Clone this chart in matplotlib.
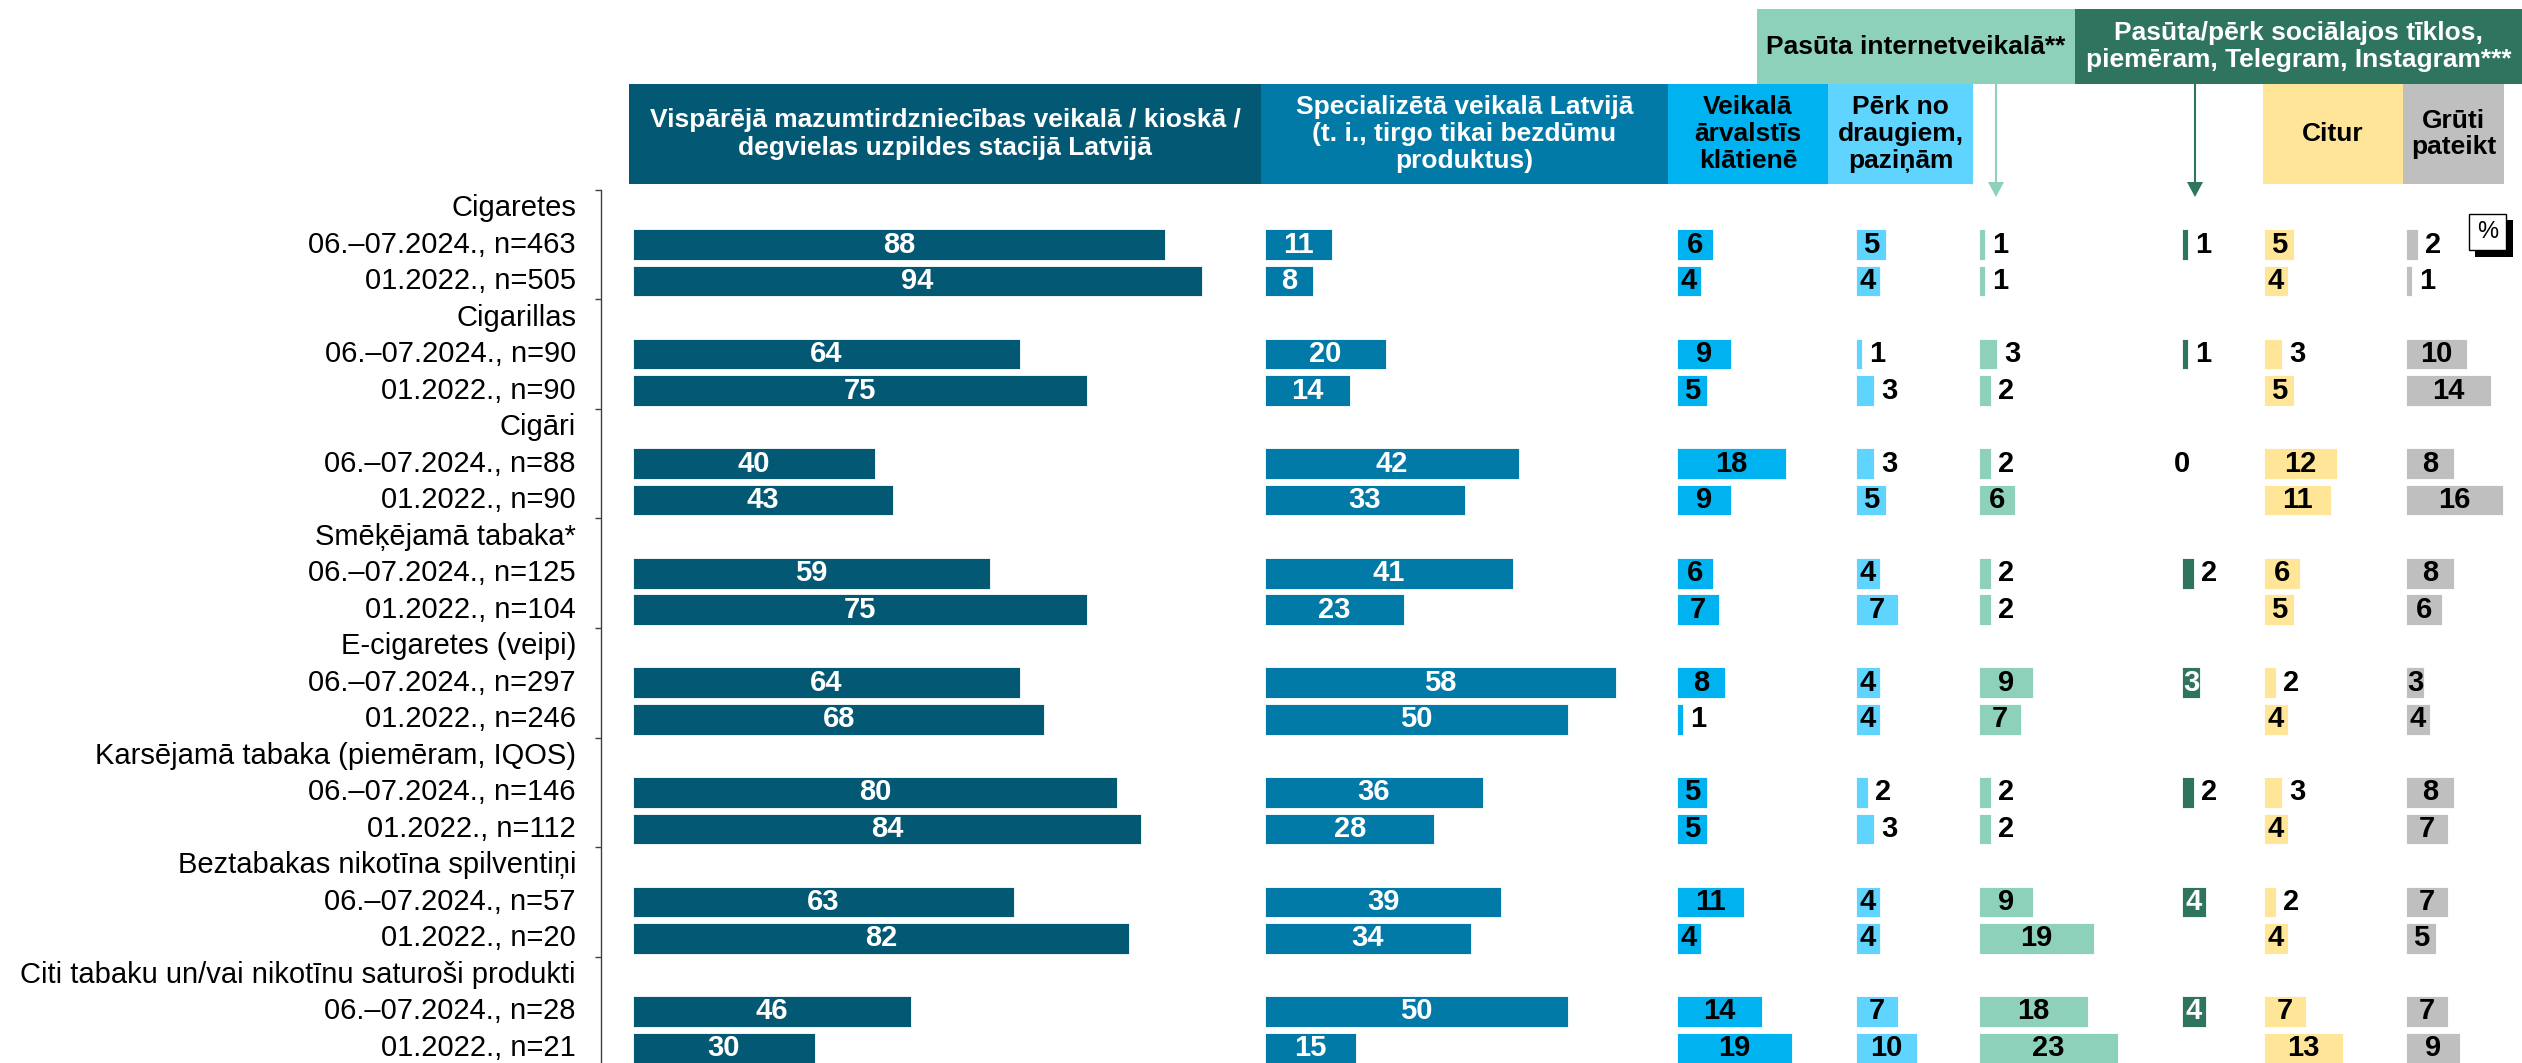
import matplotlib
matplotlib.use('Agg')
import matplotlib.pyplot as plt
from matplotlib.patches import Rectangle, Polygon

plt.rcParams['font.family'] = ['Liberation Sans', 'DejaVu Sans']

# ---------------- data ----------------
categories = ["Cigaretes", "Cigarillas", "Cigāri", "Smēķējamā tabaka*",
              "E-cigaretes (veipi)", "Karsējamā tabaka (piemēram, IQOS)",
              "Beztabakas nikotīna spilventiņi",
              "Citi tabaku un/vai nikotīnu saturoši produkti"]
period_2024 = "06.–07.2024."
period_2022 = "01.2022."
n_2024 = [463, 90, 88, 125, 297, 146, 57, 28]
n_2022 = [505, 90, 90, 104, 246, 112, 20, 21]

general_2024 = [88, 64, 40, 59, 64, 80, 63, 46]
general_2022 = [94, 75, 43, 75, 68, 84, 82, 30]
special_2024 = [11, 20, 42, 41, 58, 36, 39, 50]
special_2022 = [8, 14, 33, 23, 50, 28, 34, 15]
abroad_2024 = [6, 9, 18, 6, 8, 5, 11, 14]
abroad_2022 = [4, 5, 9, 7, 1, 5, 4, 19]
friends_2024 = [5, 1, 3, 4, 4, 2, 4, 7]
friends_2022 = [4, 3, 5, 7, 4, 3, 4, 10]
internet_2024 = [1, 3, 2, 2, 9, 2, 9, 18]
internet_2022 = [1, 2, 6, 2, 7, 2, 19, 23]
social_2024 = [1, 1, 0, 2, 3, 2, 4, 4]
social_2022 = [None] * 8
citur_2024 = [5, 3, 12, 6, 2, 3, 2, 7]
citur_2022 = [4, 5, 11, 5, 4, 4, 4, 13]
gruti_2024 = [2, 10, 8, 8, 3, 8, 7, 7]
gruti_2022 = [1, 14, 16, 6, 4, 7, 5, 9]

header_general = "Vispārējā mazumtirdzniecības veikalā / kioskā /\ndegvielas uzpildes stacijā Latvijā"
header_special = "Specializētā veikalā Latvijā\n(t. i., tirgo tikai bezdūmu\nproduktus)"
header_abroad = "Veikalā\nārvalstīs\nklātienē"
header_friends = "Pērk no\ndraugiem,\npaziņām"
header_internet = "Pasūta internetveikalā**"
header_social = "Pasūta/pērk sociālajos tīklos,\npiemēram, Telegram, Instagram***"
header_citur = "Citur"
header_gruti = "Grūti\npateikt"

# ---------------- layout ----------------
W, H = 2522, 1063
fig = plt.figure(figsize=(W / 100, H / 100), dpi=100)
SLOT0, SLOT = 208.0, 36.52
YLIM = ((H - SLOT0) / SLOT, -SLOT0 / SLOT)
SCALE = 6.05  # px per percentage point
FS = 21
FSV = 21

C_GEN = '#035873'
C_SPE = '#017AA7'
C_ABR = '#00B2EF'
C_FRI = '#5FD4FF'
C_INT = '#8DD1BB'
C_SOC = '#2E745F'
C_CIT = '#FFE597'
C_GRU = '#BFBFBF'

# header overlay axes (pixel coordinates)
axh = fig.add_axes([0, 0, 1, 1])
axh.set_xlim(0, W)
axh.set_ylim(H, 0)
axh.axis('off')

def header(x0, x1, y0, y1, color, text, tcolor, ls=1.2):
    axh.add_patch(Rectangle((x0, y0), x1 - x0, y1 - y0, facecolor=color,
                            edgecolor='none'))
    axh.text((x0 + x1) / 2, (y0 + y1) / 2, text, ha='center', va='center',
             color=tcolor, fontsize=19, fontweight='bold', linespacing=ls)

header(629, 1261, 84, 184, C_GEN, header_general, 'white', 1.25)
header(1261, 1668, 84, 184, C_SPE, header_special, 'white', 1.15)
header(1668, 1828, 84, 184, C_ABR, header_abroad, 'black', 1.15)
header(1828, 1973, 84, 184, C_FRI, header_friends, 'black', 1.15)
header(1757, 2075, 9, 84, C_INT, header_internet, 'black')
header(2075, 2522, 9, 84, C_SOC, header_social, 'white', 1.15)
header(2263, 2403, 84, 184, C_CIT, header_citur, 'black')
header(2403, 2504, 84, 184, C_GRU, header_gruti, 'black', 1.15)

# arrows from the top headers
for xa, col in [(1996, C_INT), (2195, C_SOC)]:
    axh.plot([xa, xa], [84, 184], color=col, lw=1.5, solid_capstyle='butt')
    axh.add_patch(Polygon([(xa - 8, 182), (xa + 8, 182), (xa, 197)],
                          closed=True, facecolor=col, edgecolor='none'))

# % box
axh.add_patch(Rectangle((2475, 220), 38, 37, facecolor='black', edgecolor='none'))
axh.add_patch(Rectangle((2469, 214), 37, 36, facecolor='white',
                        edgecolor='black', lw=1))
axh.text(2487.5, 232, "%", ha='center', va='center', fontsize=17)

# ---------------- left labels & axis ----------------
AX_X = 601
axl = fig.add_axes([0, 0, AX_X / W, 1])
axl.set_xlim(0, AX_X)
axl.set_ylim(*YLIM)
axl.patch.set_alpha(0)
for s in ['left', 'top', 'bottom']:
    axl.spines[s].set_visible(False)
axl.spines['right'].set_color('#404040')
axl.spines['right'].set_linewidth(1.0)
axl.spines['right'].set_bounds(-0.5, YLIM[0])
axl.set_xticks([])
axl.set_yticks([-0.5 + 3 * k for k in range(len(categories))])
axl.tick_params(axis='y', left=False, right=True, direction='in', length=4.5,
                width=1.0, color='#404040', labelleft=False, labelright=False)

LX = 576
for g, cat in enumerate(categories):
    axl.text(LX, 3 * g, cat, ha='right', va='center', fontsize=FS)
    axl.text(LX, 3 * g + 1, f"{period_2024}, n={n_2024[g]}", ha='right',
             va='center', fontsize=FS)
    axl.text(LX, 3 * g + 2, f"{period_2022}, n={n_2022[g]}", ha='right',
             va='center', fontsize=FS)

# ---------------- bar columns ----------------
columns = [
    (general_2024, general_2022, C_GEN, 'white', 633, 610, 1),
    (special_2024, special_2022, C_SPE, 'white', 1265, 400, 1),
    (abroad_2024, abroad_2022, C_ABR, 'black', 1677, 150, 4),
    (friends_2024, friends_2022, C_FRI, 'black', 1856, 110, 4),
    (internet_2024, internet_2022, C_INT, 'black', 1979, 190, 4),
    (social_2024, social_2022, C_SOC, 'white', 2182, 70, 3),
    (citur_2024, citur_2022, C_CIT, 'black', 2264, 130, 4),
    (gruti_2024, gruti_2022, C_GRU, 'black', 2406, 110, 3),
]

for v24, v22, col, tcol, left, width, thr in columns:
    ax = fig.add_axes([left / W, 0, width / W, 1])
    ax.set_xlim(0, width / SCALE)
    ax.set_ylim(*YLIM)
    ax.axis('off')
    ax.patch.set_alpha(0)
    for offset, vals in [(1, v24), (2, v22)]:
        ys = [3 * g + offset for g, v in enumerate(vals) if v is not None]
        vs = [v for v in vals if v is not None]
        ax.barh(ys, vs, height=0.84, left=0, color=col, edgecolor='white',
                linewidth=0.6)
        for y, v in zip(ys, vs):
            if v == 0:
                ax.text(0, y, str(v), ha='center', va='center', fontsize=FSV,
                        fontweight='bold', color='black')
            elif v >= thr:
                ax.text(v / 2, y, str(v), ha='center', va='center',
                        fontsize=FSV, fontweight='bold', color=tcol)
            else:
                ax.annotate(str(v), (v, y), xytext=(5, 0),
                            textcoords='offset points', ha='left',
                            va='center', fontsize=FSV, fontweight='bold',
                            color='black')

fig.savefig('out.png', dpi=100)
